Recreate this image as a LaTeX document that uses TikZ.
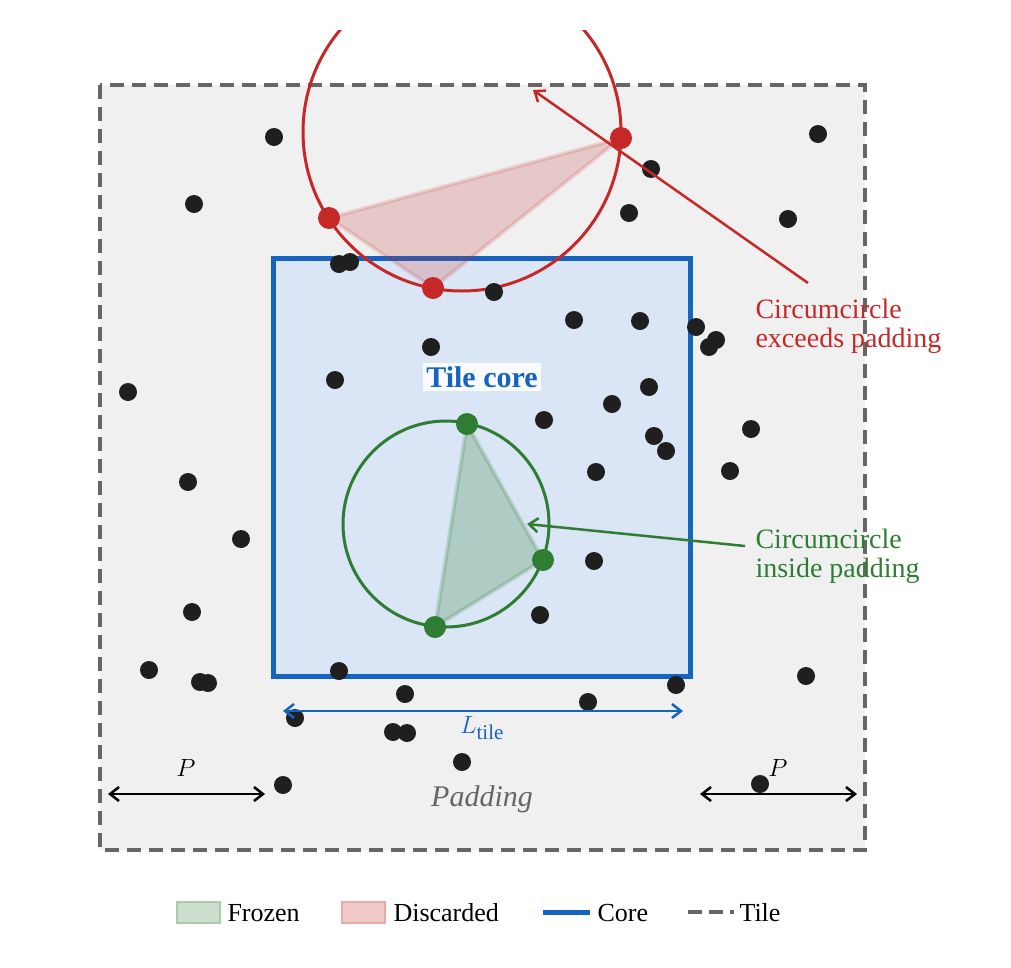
\documentclass[tikz,border=0pt]{standalone}
\usepackage{fontspec}
\setmainfont{Liberation Serif}
\usetikzlibrary{arrows.meta}
\definecolor{cblue}{HTML}{1565C0}
\definecolor{cred}{HTML}{C62828}
\definecolor{cgreen}{HTML}{2E7D32}
\definecolor{tgray}{HTML}{666666}
\begin{document}
\begin{tikzpicture}[x=1pt,y=-1pt,
  dot/.style={circle,fill=black!88,inner sep=0pt,minimum size=18pt},
  rdot/.style={circle,fill=cred,inner sep=0pt,minimum size=22pt},
  gdot/.style={circle,fill=cgreen,inner sep=0pt,minimum size=22pt},
  lbl/.style={font=\fontsize{28}{32}\selectfont,align=left,anchor=west},
  arr/.style={line width=2.5pt,-{Straight Barb[length=9pt,width=14pt]}},
  darr/.style={line width=2.5pt,{Straight Barb[length=9pt,width=14pt]}-{Straight Barb[length=9pt,width=14pt]}}]
\useasboundingbox (0,0) rectangle (1011,967);
\draw[fill=black!6,draw=tgray,line width=3.5pt,dash pattern=on 14pt off 8pt] (100,85) rectangle (865,850);
\draw[fill=cblue!16,draw=cblue,line width=5pt] (273,258) rectangle (690,676);
\begin{scope}
\clip (0,30) rectangle (1011,967);
\draw[cred,line width=3pt] (462,132) circle (159);
\end{scope}
\node[rdot] (r1) at (329,218) {};
\node[rdot] (r2) at (433,288) {};
\node[rdot] (r3) at (621,138) {};
\fill[cred,opacity=0.2,draw=cred,draw opacity=0.15,line width=4pt,line join=round] (r1.center)--(r2.center)--(r3.center)--cycle;
\draw[cgreen,line width=3pt] (446,524) circle (103);
\node[gdot] (g1) at (467,424) {};
\node[gdot] (g2) at (543,560) {};
\node[gdot] (g3) at (435,627) {};
\fill[cgreen,opacity=0.25,draw=cgreen,draw opacity=0.2,line width=4pt,line join=round] (g1.center)--(g2.center)--(g3.center)--cycle;
\foreach \p in {(274,137),(194,204),(651,169),(629,213),(818,134),(788,219),(339,264),(350,262),(494,292),(574,320),(640,321),(696,327),(716,340),(709,347),(431,347),(335,380),(128,392),(649,387),(612,404),(544,420),(654,436),(666,451),(751,429),(596,472),(730,471),(188,482),(241,539),(594,561),(192,612),(540,615),(149,670),(200,682),(208,683),(339,671),(405,694),(676,685),(806,676),(588,702),(295,718),(393,732),(407,733),(462,762),(283,785),(760,784)}
  \node[dot] at \p {};
\coordinate (ra0) at (808,283); \coordinate (ra1) at (533,90);
\draw[arr,cred] (ra0)--(ra1);
\coordinate (ga0) at (745,546); \coordinate (ga1) at (527,524);
\draw[arr,cgreen] (ga0)--(ga1);
\node[lbl,text=cred] (t1) at (752,326) {Circumcircle\\[-3pt]exceeds padding};
\node[lbl,text=cgreen] (t2) at (752,556) {Circumcircle\\[-3pt]inside padding};
\node[fill=white,fill opacity=0.85,text opacity=1,text=cblue,font=\fontsize{30}{34}\selectfont\bfseries,inner sep=3pt] (core) at (482,377) {Tile core};
\coordinate (l0) at (283,711); \coordinate (l1) at (683,711);
\draw[darr,cblue] (l0)--(l1);
\node[text=cblue,font=\fontsize{30}{34}\selectfont] (lt) at (482,728) {$L_{\mathrm{tile}}$};
\coordinate (p0) at (108,794); \coordinate (p1) at (265,794);
\coordinate (p2) at (700,794); \coordinate (p3) at (857,794);
\draw[darr,black] (p0)--(p1);
\draw[darr,black] (p2)--(p3);
\node[font=\fontsize{30}{34}\selectfont] (P1) at (186,768) {$P$};
\node[font=\fontsize{30}{34}\selectfont] (P2) at (778,768) {$P$};
\node[text=tgray,font=\fontsize{30}{34}\selectfont\itshape] (pad) at (482,799) {Padding};
% legend
\draw[fill=cgreen!25,draw=cgreen!40,line width=2pt] (177,902) rectangle (220,923);
\node[lbl,font=\fontsize{26}{30}\selectfont] (lf) at (224,913) {Frozen};
\draw[fill=cred!25,draw=cred!40,line width=2pt] (342,902) rectangle (385,923);
\node[lbl,font=\fontsize{26}{30}\selectfont] (ld) at (390,913) {Discarded};
\coordinate (c0) at (543,912); \coordinate (c1) at (590,912);
\draw[cblue,line width=5pt] (c0)--(c1);
\node[lbl,font=\fontsize{26}{30}\selectfont] (lc) at (594,913) {Core};
\coordinate (d0) at (688,912); \coordinate (d1) at (734,912);
\draw[tgray,line width=4pt,dash pattern=on 14pt off 7pt] (d0)--(d1);
\node[lbl,font=\fontsize{26}{30}\selectfont] (ltl) at (736,913) {Tile};
\end{tikzpicture}
\end{document}
